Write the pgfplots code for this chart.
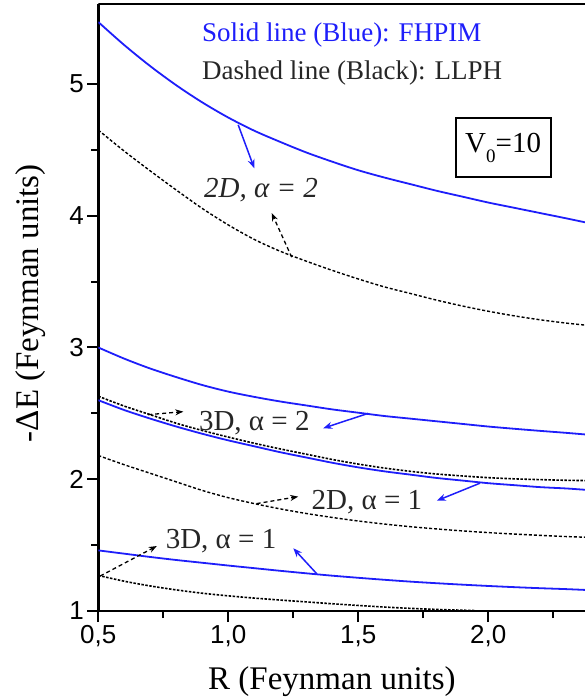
\documentclass[border=0pt]{standalone}
\usepackage{fontspec}
\setmainfont{Liberation Serif}
\setsansfont{Liberation Sans}
\newfontfamily\serifLS{Liberation Serif}
\usepackage{pgfplots}
\pgfplotsset{compat=1.18}
\usetikzlibrary{arrows.meta}
\definecolor{lblue}{RGB}{30,30,250}
\begin{document}
\begin{tikzpicture}
\path[use as bounding box] (-98.3pt,-89pt) rectangle (486.7pt,611pt);
\begin{axis}[
  name=ax, at={(0,0)}, anchor=south west,
  scale only axis, width=486.7pt, height=607pt,
  xmin=0.5, xmax=2.372, ymin=1, ymax=5.607,
  axis x line*=bottom, axis y line*=left,
  axis line style={line width=2.5pt, -},
  xtick={0.5,1,1.5,2}, xticklabels={{0,5},{1,0},{1,5},{2,0}},
  minor xtick={0.75,1.25,1.75,2.25},
  ytick={1,2,3,4,5}, yticklabels={1,2,3,4,5},
  minor ytick={1.5,2.5,3.5,4.5},
  tick align=outside,
  major tick length=11pt, minor tick length=7pt,
  every tick/.style={black, line width=2pt},
  xticklabel style={font=\fontsize{26}{26}\selectfont\sffamily},
  yticklabel style={font=\fontsize{26}{26}\selectfont\sffamily},
  xlabel={R (Feynman units)},
  ylabel={-ΔE (Feynman units)},
  every axis x label/.style={at={(axis description cs:0.48,0)}, anchor=base, yshift=-78pt, inner sep=0pt, font=\serifLS\fontsize{33}{33}\selectfont},
  every axis y label/.style={at={(axis description cs:0,0.507)}, xshift=-68pt, rotate=90, anchor=center, inner sep=0pt, font=\serifLS\fontsize{33}{33}\selectfont},
  clip=true,
  every axis plot/.append style={smooth, tension=0.5},
]
\draw[line width=2.5pt] (rel axis cs:0,1) -- (rel axis cs:1,1);
% 2D alpha=2 FHPIM
\addplot[lblue, line width=1.8pt] coordinates {(0.5,5.47)(0.6,5.295)(0.7,5.135)(0.8,4.99)(0.9,4.86)(1.0,4.745)(1.1,4.645)(1.2,4.56)(1.3,4.48)(1.4,4.41)(1.5,4.345)(1.6,4.29)(1.7,4.24)(1.8,4.19)(1.9,4.145)(2.0,4.10)(2.1,4.06)(2.2,4.02)(2.3,3.98)(2.372,3.95)};
% 2D alpha=2 LLPH
\addplot[black, line width=1.4pt, dash pattern=on 3pt off 2pt] coordinates {(0.5,4.65)(0.6,4.49)(0.7,4.34)(0.8,4.195)(0.9,4.055)(1.0,3.93)(1.1,3.82)(1.2,3.73)(1.3,3.655)(1.4,3.585)(1.5,3.52)(1.6,3.46)(1.7,3.41)(1.8,3.36)(1.9,3.315)(2.0,3.275)(2.1,3.24)(2.2,3.21)(2.3,3.185)(2.372,3.17)};
% 3D alpha=2 FHPIM
\addplot[lblue, line width=1.8pt] coordinates {(0.5,3.00)(0.6,2.915)(0.7,2.84)(0.8,2.775)(0.9,2.715)(1.0,2.665)(1.1,2.625)(1.2,2.59)(1.3,2.56)(1.4,2.53)(1.5,2.505)(1.6,2.48)(1.7,2.46)(1.8,2.44)(1.9,2.42)(2.0,2.40)(2.1,2.383)(2.2,2.367)(2.3,2.352)(2.372,2.34)};
% 3D alpha=2 LLPH
\addplot[black, line width=1.6pt, dash pattern=on 2.5pt off 1.5pt] coordinates {(0.5,2.63)(0.6,2.555)(0.7,2.49)(0.8,2.425)(0.9,2.37)(1.0,2.32)(1.1,2.273)(1.2,2.23)(1.3,2.19)(1.4,2.15)(1.5,2.115)(1.6,2.085)(1.7,2.06)(1.8,2.04)(1.9,2.025)(2.0,2.012)(2.1,2.003)(2.2,1.997)(2.3,1.992)(2.372,1.99)};
% 2D alpha=1 FHPIM
\addplot[lblue, line width=1.8pt] coordinates {(0.5,2.60)(0.6,2.525)(0.7,2.46)(0.8,2.40)(0.9,2.345)(1.0,2.295)(1.1,2.25)(1.2,2.205)(1.3,2.165)(1.4,2.125)(1.5,2.09)(1.6,2.06)(1.7,2.035)(1.8,2.01)(1.9,1.99)(2.0,1.97)(2.1,1.955)(2.2,1.94)(2.3,1.93)(2.372,1.92)};
% 2D alpha=1 LLPH
\addplot[black, line width=1.4pt, dash pattern=on 3pt off 2pt] coordinates {(0.5,2.18)(0.6,2.11)(0.7,2.045)(0.8,1.98)(0.9,1.915)(1.0,1.86)(1.1,1.815)(1.2,1.775)(1.3,1.74)(1.4,1.71)(1.5,1.683)(1.6,1.66)(1.7,1.64)(1.8,1.623)(1.9,1.608)(2.0,1.595)(2.1,1.584)(2.2,1.574)(2.3,1.565)(2.372,1.56)};
% 3D alpha=1 FHPIM
\addplot[lblue, line width=1.8pt] coordinates {(0.5,1.46)(0.6,1.435)(0.7,1.41)(0.8,1.387)(0.9,1.366)(1.0,1.345)(1.1,1.325)(1.2,1.305)(1.3,1.286)(1.4,1.268)(1.5,1.252)(1.6,1.237)(1.7,1.223)(1.8,1.211)(1.9,1.20)(2.0,1.19)(2.1,1.181)(2.2,1.173)(2.3,1.166)(2.372,1.16)};
% 3D alpha=1 LLPH
\addplot[black, line width=1.6pt, dash pattern=on 2.5pt off 1.5pt] coordinates {(0.5,1.27)(0.6,1.226)(0.7,1.19)(0.8,1.16)(0.9,1.135)(1.0,1.115)(1.1,1.098)(1.2,1.083)(1.3,1.069)(1.4,1.055)(1.5,1.042)(1.6,1.03)(1.7,1.02)(1.8,1.012)(1.9,1.006)(1.95,1.003)};
% arrows
\addplot[lblue, line width=1.5pt, -{Stealth[length=9pt,width=7pt]}] coordinates {(1.038,4.69)(1.10,4.36)};
\addplot[black, line width=1.3pt, dash pattern=on 4pt off 3pt, -{Stealth[length=8pt,width=6pt]}] coordinates {(1.244,3.685)(1.167,4.02)};
\addplot[black, line width=1.3pt, dash pattern=on 4pt off 3pt, -{Stealth[length=8pt,width=6pt]}] coordinates {(0.692,2.49)(0.827,2.513)};
\addplot[lblue, line width=1.5pt, -{Stealth[length=9pt,width=7pt]}] coordinates {(1.538,2.50)(1.365,2.387)};
\addplot[lblue, line width=1.5pt, -{Stealth[length=9pt,width=7pt]}] coordinates {(1.968,1.97)(1.802,1.837)};
\addplot[black, line width=1.3pt, dash pattern=on 4pt off 3pt, -{Stealth[length=8pt,width=6pt]}] coordinates {(1.109,1.815)(1.269,1.868)};
\addplot[black, line width=1.3pt, dash pattern=on 4pt off 3pt, -{Stealth[length=8pt,width=6pt]}] coordinates {(0.507,1.265)(0.725,1.493)};
\addplot[lblue, line width=1.5pt, -{Stealth[length=9pt,width=7pt]}] coordinates {(1.34,1.283)(1.25,1.476)};
% labels
\node[anchor=west, text=lblue, font=\fontsize{27}{27}\selectfont, inner sep=0pt] at (axis cs:0.899,5.372) {Solid line (Blue): FHPIM};
\node[anchor=west, text=black!85, font=\fontsize{27}{27}\selectfont, inner sep=0pt] at (axis cs:0.899,5.084) {Dashed line (Black): LLPH};
\node[draw, line width=2pt, minimum width=95pt, minimum height=59pt, font=\fontsize{29}{29}\selectfont, inner sep=0pt] at (axis cs:2.057,4.514) {V\raisebox{-0.35em}{\fontsize{19}{19}\selectfont 0}=10};
\node[font=\fontsize{29}{29}\selectfont\itshape, inner sep=0pt, text=black!85] at (axis cs:1.126,4.195) {2D, α = 2};
\node[font=\fontsize{29}{29}\selectfont, inner sep=0pt, text=black!85] at (axis cs:1.10,2.425) {3D, α = 2};
\node[font=\fontsize{29}{29}\selectfont, inner sep=0pt, text=black!85] at (axis cs:1.533,1.827) {2D, α = 1};
\node[font=\fontsize{29}{29}\selectfont, inner sep=0pt, text=black!85] at (axis cs:0.972,1.531) {3D, α = 1};
\end{axis}
\end{tikzpicture}
\end{document}
